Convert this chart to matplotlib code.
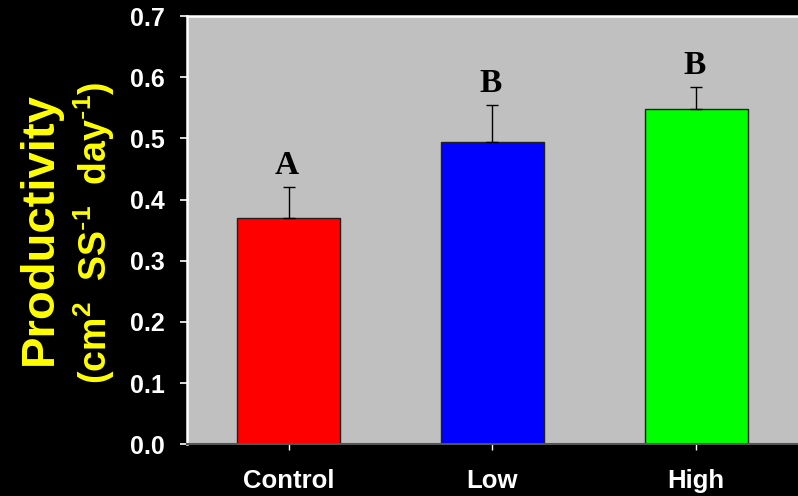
import numpy as np
import matplotlib
matplotlib.use("Agg")
import matplotlib.pyplot as plt

# productivity by treatment, mean + SE, with significance groups
treatments = ["Control", "Low", "High"]
productivity = [0.370, 0.494, 0.548]
stderr = [0.050, 0.060, 0.036]
groups = ["A", "B", "B"]
barColors = ["#FF0000", "#0000FF", "#00FF00"]
yTicks = [0.0, 0.1, 0.2, 0.3, 0.4, 0.5, 0.6, 0.7]

plt.rcParams['font.family'] = ['Liberation Sans', 'DejaVu Sans']
plt.rcParams['mathtext.default'] = 'regular'

fig = plt.figure(figsize=(7.98, 4.96), dpi=100, facecolor='black')
ax = fig.add_axes([0.2343, 0.1045, 1 - 0.2343, 0.9677 - 0.1045])
ax.set_facecolor('#C0C0C0')

x = np.arange(len(treatments))
ax.bar(x, productivity, width=0.505, color=barColors, edgecolor='#202020', linewidth=1.0, zorder=2)
# upper error bars only
ax.errorbar(x, productivity, yerr=[np.zeros(len(stderr)), stderr], fmt='none',
            ecolor='black', elinewidth=1.0, capsize=4.3, capthick=1.0, zorder=3)

for xi, yi, ei, g in zip(x, productivity, stderr, groups):
  ax.text(xi - 0.01, yi + ei + 0.021, g, ha='center', va='baseline', color='black',
          fontsize=24, fontweight='bold', family='Liberation Serif')

ax.set_xlim(-0.5, 2.5)
ax.set_ylim(0, 0.7)
ax.set_xticks(x)
ax.set_xticklabels(treatments)
ax.set_yticks(yTicks)
ax.set_yticklabels(["%.1f" % t for t in yTicks])

ax.tick_params(axis='y', colors='white', direction='out', length=5, width=1.2, pad=11,
               labelsize=18)
ax.tick_params(axis='x', colors='white', direction='out', length=4, width=1.0, pad=14,
               labelsize=18.5)
for lab in ax.get_xticklabels() + ax.get_yticklabels():
  lab.set_fontweight('bold')

ax.spines['left'].set_color('white')
ax.spines['left'].set_linewidth(1.8)
ax.spines['top'].set_color('white')
ax.spines['top'].set_linewidth(1.8)
ax.spines['bottom'].set_color('#555555')
ax.spines['bottom'].set_linewidth(1.5)
ax.spines['right'].set_visible(False)

# two-line y label: big title line plus units line
fig.text(0.050, 0.539, "Productivity", rotation=90, ha='center', va='center',
         color='#FFFF00', fontsize=34, fontweight='bold')
fig.text(0.118, 0.531, r"(cm$^{2}$  SS$^{\text{-}1}$  day$^{\text{-}1}$)", rotation=90,
         ha='center', va='center', color='#FFFF00', fontsize=27, fontweight='bold')

fig.savefig("out.png", dpi=100, facecolor='black')
